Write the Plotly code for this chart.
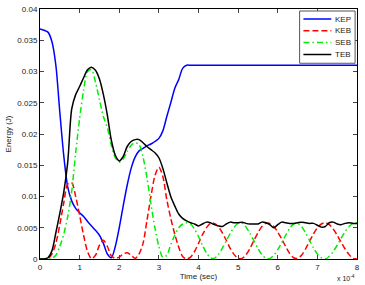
import plotly.graph_objects as go

# time in units of 1e-4 s
time = [0.0, 0.1, 0.2, 0.3, 0.4, 0.5, 0.6, 0.7, 0.8, 0.9,
        1.0, 1.1, 1.2, 1.3, 1.4, 1.5, 1.6, 1.7, 1.8, 1.9,
        2.0, 2.1, 2.2, 2.3, 2.4, 2.5, 2.6, 2.7, 2.8, 2.9,
        3.0, 3.1, 3.2, 3.3, 3.4, 3.5, 3.6, 3.7, 3.8, 3.9,
        4.0, 4.1, 4.2, 4.3, 4.4, 4.5, 4.6, 4.7, 4.8, 4.9,
        5.0, 5.1, 5.2, 5.3, 5.4, 5.5, 5.6, 5.7, 5.8, 5.9,
        6.0, 6.1, 6.2, 6.3, 6.4, 6.5, 6.6, 6.7, 6.8, 6.9,
        7.0, 7.1, 7.2, 7.3, 7.4, 7.5, 7.6, 7.7, 7.8, 7.9, 8.0]

# energies in mJ
kep = [36.8, 36.6, 36.3, 34.8, 31.0, 23.5, 16.5, 11.5, 9.3, 8.1,
       7.4, 6.8, 6.0, 5.3, 4.6, 3.8, 2.5, 0.8, 0.2, 2.0,
       5.0, 8.5, 11.8, 14.5, 16.3, 17.3, 17.7, 18.1, 18.4, 18.8,
       19.3, 20.5, 22.8, 25.0, 27.3, 28.7, 30.5, 31.0, 31.0, 31.0,
       31.0, 31.0, 31.0, 31.0, 31.0, 31.0, 31.0, 31.0, 31.0, 31.0,
       31.0, 31.0, 31.0, 31.0, 31.0, 31.0, 31.0, 31.0, 31.0, 31.0,
       31.0, 31.0, 31.0, 31.0, 31.0, 31.0, 31.0, 31.0, 31.0, 31.0,
       31.0, 31.0, 31.0, 31.0, 31.0, 31.0, 31.0, 31.0, 31.0, 31.0, 31.0]

keb = [0.0, 0.0, 0.1, 0.8, 2.5, 5.5, 9.0, 12.0, 12.2, 10.0,
       7.0, 3.8, 1.2, 0.05, 0.6, 2.2, 3.0, 2.0, 0.5, 0.1,
       0.3, 0.8, 1.0, 0.6, 0.1, 0.8, 2.5, 6.2, 10.0, 13.3,
       14.7, 13.2, 9.5, 6.5, 4.0, 1.9, 0.4, 0.0, 0.3, 1.2,
       2.5, 3.9, 5.0, 5.7, 5.7, 5.2, 4.2, 3.0, 1.7, 0.7,
       0.1, 0.1, 0.7, 1.7, 3.0, 4.2, 5.2, 5.7, 5.7, 5.2,
       4.3, 3.2, 2.0, 0.9, 0.2, 0.1, 0.6, 1.6, 2.8, 4.0,
       5.0, 5.6, 5.8, 5.5, 4.8, 3.8, 2.7, 1.6, 0.7, 0.1, 0.0]

seb = [0.0, 0.0, 0.0, 0.1, 0.6, 2.0, 4.0, 6.8, 10.8, 17.0,
       22.5, 27.0, 30.0, 30.3, 28.3, 25.5, 22.8, 21.0, 18.2, 16.2,
       15.5, 16.0, 17.2, 18.2, 18.6, 18.3, 16.3, 13.0, 8.8, 5.0,
       2.0, 0.3, 0.6, 2.3, 3.8, 5.0, 5.6, 5.8, 5.6, 4.8,
       3.6, 2.2, 1.0, 0.2, 0.1, 0.7, 1.7, 2.9, 4.1, 5.1,
       5.7, 5.7, 5.1, 4.1, 2.9, 1.7, 0.7, 0.1, 0.1, 0.6,
       1.5, 2.6, 3.8, 4.9, 5.6, 5.7, 5.2, 4.2, 3.0, 1.8,
       0.8, 0.2, 0.0, 0.4, 1.2, 2.2, 3.3, 4.4, 5.2, 5.7, 5.8]

teb = [0.0, 0.0, 0.2, 1.3, 4.2, 7.3, 10.7, 15.5, 24.0, 26.3,
       27.6, 29.0, 30.3, 30.7, 30.2, 28.8, 26.3, 23.0, 19.0, 16.6,
       15.7, 16.4, 18.0, 18.8, 19.1, 19.1, 18.6, 18.0, 17.5, 17.0,
       16.2, 14.5, 12.2, 10.0, 8.5, 7.2, 6.5, 6.1, 5.8, 5.6,
       5.3, 5.6, 5.9, 5.8, 5.5, 5.3, 5.2, 5.6, 5.9, 5.8,
       5.8, 5.9, 5.7, 5.6, 5.6, 5.6, 5.9, 5.8, 5.5, 5.0,
       5.5, 5.9, 5.8, 5.7, 5.7, 5.8, 5.9, 5.8, 5.7, 5.7,
       5.4, 5.1, 5.2, 5.8, 5.9, 5.6, 5.5, 5.7, 5.8, 5.7, 5.7]

series_names = ["KEP", "KEB", "SEB", "TEB"]
series_data = [kep, keb, seb, teb]
series_colors = ["#0000ff", "#ff0000", "#00ee00", "#000000"]
series_dash = ["solid", "6px,3px", "6px,3px,1.5px,3px", "solid"]

x_ticks = [0, 1, 2, 3, 4, 5, 6, 7, 8]
y_ticks = [0, 0.005, 0.01, 0.015, 0.02, 0.025, 0.03, 0.035, 0.04]
y_tick_text = ["0", "0.005", "0.01", "0.015", "0.02", "0.025", "0.03", "0.035", "0.04"]

fig = go.Figure()
for name, data, color, dash in zip(series_names, series_data, series_colors, series_dash):
    fig.add_trace(go.Scatter(
        x=time, y=[v / 1000 for v in data], name=name, mode="lines",
        line=dict(color=color, width=1.5, dash=dash, shape="spline", smoothing=0.8),
        showlegend=False,
    ))

# compact MATLAB-style legend box (paper coords relative to plot area)
shapes = [dict(type="rect", xref="paper", yref="paper",
               x0=0.819, x1=0.994, y0=0.783, y1=0.992,
               line=dict(color="#555", width=1), fillcolor="white", layer="above")]
annotations = []
row_y = [0.960, 0.913, 0.866, 0.818]
for name, color, dash, yy in zip(series_names, series_colors, series_dash, row_y):
    shapes.append(dict(type="line", xref="paper", yref="paper",
                       x0=0.831, x1=0.919, y0=yy, y1=yy, layer="above",
                       line=dict(color=color, width=1.5, dash=dash)))
    annotations.append(dict(text=name, xref="paper", yref="paper", x=0.925, y=yy,
                            xanchor="left", yanchor="middle", showarrow=False,
                            font=dict(size=8, color="#222")))

annotations.append(dict(text="x 10<sup>-4</sup>", xref="paper", yref="paper",
                        x=1.0, y=0, yshift=-25, xanchor="right", yanchor="bottom",
                        showarrow=False, font=dict(size=7, color="#222")))

font_family = "Liberation Sans, Arial, sans-serif"
fig.update_layout(
    width=365, height=285,
    margin=dict(l=40, r=5, t=6, b=26),
    paper_bgcolor="white", plot_bgcolor="white",
    font=dict(family=font_family, size=8, color="#222"),
    showlegend=False,
    xaxis=dict(range=[0, 8], tickvals=x_ticks, ticks="inside", ticklen=4,
               showline=True, linecolor="black", linewidth=1, mirror="allticks",
               showgrid=False, zeroline=False,
               title=dict(text="Time (sec)", font=dict(size=8), standoff=2)),
    yaxis=dict(range=[0, 0.04], tickvals=y_ticks, ticktext=y_tick_text,
               ticks="inside", ticklen=4,
               showline=True, linecolor="black", linewidth=1, mirror="allticks",
               showgrid=False, zeroline=False,
               title=dict(text="Energy (J)", font=dict(size=8), standoff=4)),
    shapes=shapes,
    annotations=annotations,
)

fig.write_html("out.html")
